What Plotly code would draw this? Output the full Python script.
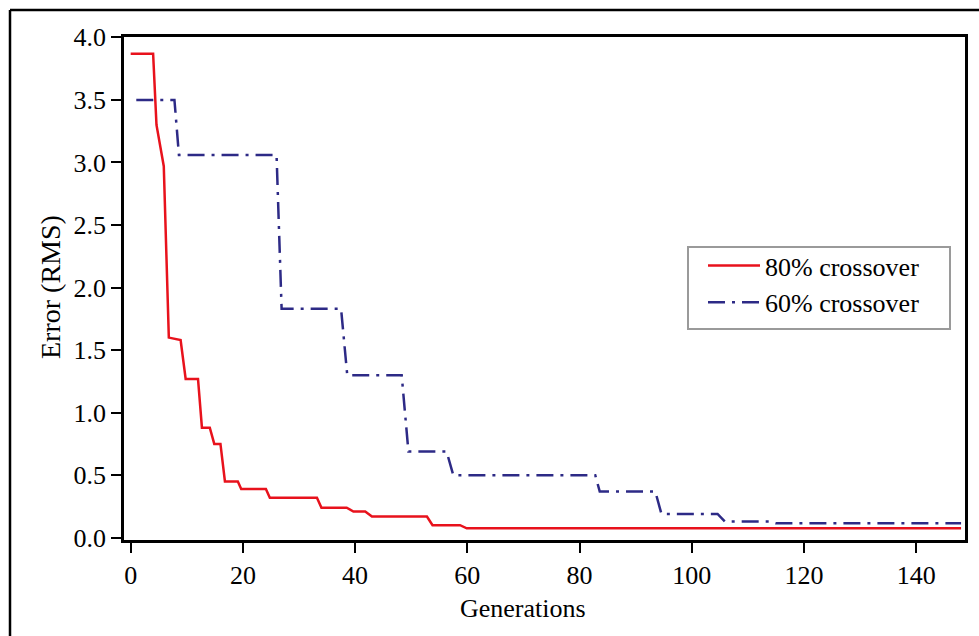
import plotly.graph_objects as go

# 80% crossover (red, solid)
gen_80 = [0, 4, 4.6, 5.2, 5.9, 6.8, 8.9, 9.8, 12.0, 12.7, 14.1, 14.9, 16.0, 16.8, 19.1, 19.7,
          24.1, 24.8, 33.2, 34.0, 38.5, 39.7, 41.8, 43.0, 52.8, 53.8, 58.7, 59.9, 148]
err_80 = [3.87, 3.87, 3.30, 3.14, 2.97, 1.60, 1.58, 1.27, 1.27, 0.88, 0.88, 0.75, 0.75, 0.45, 0.45, 0.39,
          0.39, 0.32, 0.32, 0.24, 0.24, 0.21, 0.21, 0.17, 0.17, 0.10, 0.10, 0.075, 0.075]

# 60% crossover (navy, dash-dot)
gen_60 = [1, 7.8, 8.6, 26.0, 26.9, 37.5, 38.6, 48.3, 49.5, 56.3, 57.5, 82.8, 83.6, 93.5, 94.6,
          104.6, 105.9, 113.9, 115.0, 148]
err_60 = [3.50, 3.50, 3.06, 3.06, 1.83, 1.83, 1.30, 1.30, 0.69, 0.69, 0.50, 0.50, 0.37, 0.37, 0.19,
          0.19, 0.13, 0.13, 0.115, 0.115]

x_ticks = [0, 20, 40, 60, 80, 100, 120, 140]
y_ticks = [0.0, 0.5, 1.0, 1.5, 2.0, 2.5, 3.0, 3.5, 4.0]
y_tick_text = [f"{v:.1f}" for v in y_ticks]

FONT = "Liberation Serif"
FS = 26

fig = go.Figure()
fig.add_trace(go.Scatter(x=gen_80, y=err_80, mode="lines", name="80% crossover",
                         line=dict(color="#e8121c", width=2.5)))
fig.add_trace(go.Scatter(x=gen_60, y=err_60, mode="lines", name="60% crossover",
                         line=dict(color="#2d2a86", width=2.5, dash="17px,7px,3px,7px")))

W, H = 979, 636
L, R, T, B = 124, 14, 37, 96
pw, ph = W - L - R, H - T - B


def px(x):
    return (x - L) / pw


def py(y):
    return (H - B - y) / ph


fig.update_layout(
    width=W, height=H,
    margin=dict(l=L, r=R, t=T, b=B),
    paper_bgcolor="white", plot_bgcolor="white",
    font=dict(family=FONT, size=FS, color="black"),
    showlegend=True,
    legend=dict(x=px(703), y=py(242), xanchor="left", yanchor="top",
                bgcolor="rgba(0,0,0,0)", borderwidth=0, itemwidth=52,
                font=dict(family=FONT, size=FS)),
    xaxis=dict(range=[-1.19, 148.7], tickvals=x_ticks, ticks="outside", ticklen=10,
               tickwidth=1.5, tickcolor="black", showline=True, linewidth=2.5,
               linecolor="black", mirror=True, showgrid=False, zeroline=False,
               tickfont=dict(family=FONT, size=FS)),
    yaxis=dict(range=[-0.018, 4.003], tickvals=y_ticks, ticktext=y_tick_text, ticks="outside",
               ticklen=10, tickwidth=1.5, tickcolor="black", showline=True, linewidth=2.5,
               linecolor="black", mirror=True, showgrid=False, zeroline=False,
               tickfont=dict(family=FONT, size=FS)),
    annotations=[
        dict(text="Generations", xref="paper", yref="paper",
             x=px(523), y=py(608), showarrow=False,
             xanchor="center", yanchor="middle", font=dict(family=FONT, size=FS)),
        dict(text="Error (RMS)", xref="paper", yref="paper", textangle=-90,
             x=px(50), y=py(287), showarrow=False,
             xanchor="center", yanchor="middle", font=dict(family=FONT, size=FS + 2)),
    ],
    shapes=[
        # outer frame (left and top edges visible)
        dict(type="line", xref="paper", yref="paper",
             x0=px(10), x1=px(10), y0=py(10), y1=py(700),
             line=dict(color="black", width=2.5)),
        dict(type="line", xref="paper", yref="paper",
             x0=px(10), x1=px(1000), y0=py(10), y1=py(10),
             line=dict(color="black", width=2.5)),
        # legend box
        dict(type="rect", xref="paper", yref="paper", layer="below",
             x0=px(688), x1=px(950), y0=py(247), y1=py(329),
             line=dict(color="#9a9a9a", width=2), fillcolor="white"),
    ],
)

fig.write_html("out.html")
